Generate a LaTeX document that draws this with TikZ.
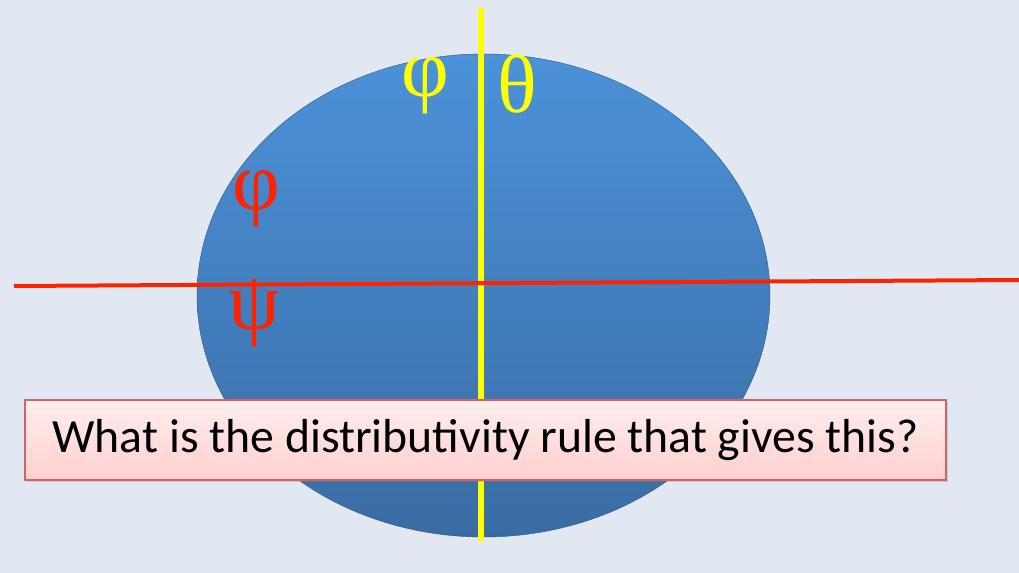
\documentclass[tikz,border=0pt]{standalone}
\usepackage{fontspec}
\setmainfont{Carlito}
\newfontfamily\greekfont{Liberation Serif}
\usetikzlibrary{positioning,shadows}
\definecolor{slidebg}{HTML}{E1E8F2}
\definecolor{balltop}{HTML}{4B92D9}
\definecolor{ballbot}{HTML}{3A6CA3}
\definecolor{cutred}{HTML}{FF2200}
\definecolor{cutyellow}{HTML}{FFFF00}
\definecolor{boxtop}{HTML}{FFEEEE}
\definecolor{boxbot}{HTML}{FFCFCF}
\definecolor{boxline}{HTML}{D8625E}
\tikzset{
  greeklabel/.style={font=\greekfont\fontsize{62}{66}\selectfont, inner sep=0pt},
  questionbox/.style={draw=boxline, line width=1.2pt, top color=boxtop, bottom color=boxbot,
    minimum width=690.75pt, minimum height=60pt, font=\fontsize{35.8}{40}\selectfont,
    drop shadow={shadow xshift=1.5pt, shadow yshift=-1.5pt, opacity=0.25}},
}
\begin{document}
\begin{tikzpicture}[x=0.75pt, y=-0.75pt]
  \fill[slidebg] (0,0) rectangle (1019,573);
  \useasboundingbox (0,0) rectangle (1019,573);
  % the ball
  \shade[top color=balltop, bottom color=ballbot, draw=ballbot!80!black, line width=0.3pt]
    (483.5,295.5) ellipse [x radius=286.5, y radius=241.5];
  % the two cuts
  \coordinate (ytop) at (481,8);
  \coordinate (ybot) at (481,541);
  \coordinate (rleft) at (14,286);
  \coordinate (rright) at (1019,280);
  \draw[cutyellow, line width=4.5pt] (ytop) -- (ybot);
  \draw[cutred, line width=3pt] (rleft) -- (rright);
  % labels
  \node[greeklabel, text=cutyellow] (phitop) at (425,86) {φ};
  \node[greeklabel, text=cutyellow] (thetatop) at (517,84) {θ};
  \node[greeklabel, text=cutred] (phileft) at (256,199) {φ};
  \node[greeklabel, text=cutred] (psileft) at (254,313) {ψ};
  \node[questionbox] (question) at (485.5,440) {What is the distributivity rule that gives this?};
\end{tikzpicture}
\end{document}
